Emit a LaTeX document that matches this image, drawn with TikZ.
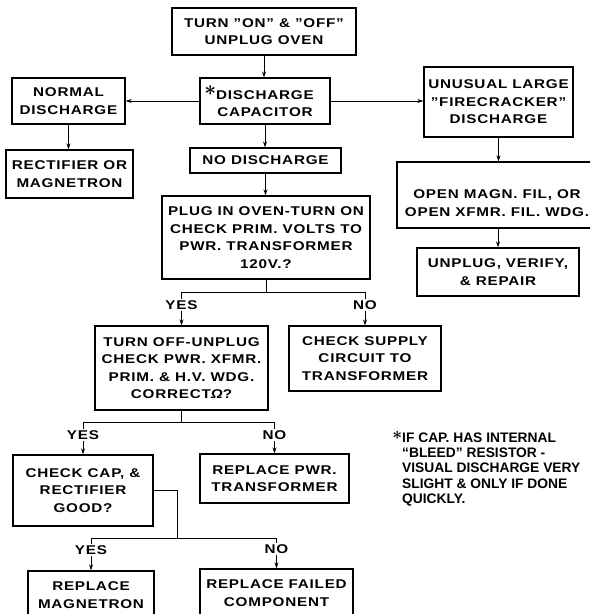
\documentclass[tikz,border=0pt]{standalone}
\usepackage{fontspec}
\setmainfont{Liberation Sans}[FakeStretch=1.2,LetterSpace=6]
\newfontfamily\notefont{Liberation Sans}[Ligatures=TeX]
\usetikzlibrary{arrows.meta}

% big asterisk that marks the capacitor note
\newcommand\capmark[2]{\raisebox{#2}{\fontsize{#1}{#1}\selectfont\boldmath$\ast$}}

\begin{document}
\begin{tikzpicture}[x=1pt, y=-1pt,
    box/.style={draw, line width=1.4pt, align=center, inner sep=0pt,
        font=\bfseries\fontsize{12.7}{17.5}\selectfont},
    arr/.style={-{Stealth[length=6pt,width=4pt]}, line width=0.8pt},
    link/.style={line width=0.8pt},
    ans/.style={fill=white, inner sep=1.5pt, font=\bfseries\fontsize{12.7}{15}\selectfont},
    note/.style={align=left, inner sep=0pt, font=\notefont\bfseries\fontsize{13.8}{15.3}\selectfont}]
    \path[use as bounding box] (0,0) rectangle (590,614);
    \clip (0,0) rectangle (590,614);

    % main column
    \node[box, minimum width=184, minimum height=47] (turn) at (264,31.5) {TURN ''ON'' \& ''OFF''\\UNPLUG OVEN};
    \node[box, minimum width=130, minimum height=46] (dis) at (265,101) {\llap{\capmark{20}{4pt}}DISCHARGE\\CAPACITOR};
    \node[box, minimum width=151, minimum height=25] (nodis) at (265.5,160.5) {NO DISCHARGE};
    \node[box, minimum width=208, minimum height=83] (plug) at (266,237.5) {PLUG IN OVEN-TURN ON\\CHECK PRIM. VOLTS TO\\PWR. TRANSFORMER\\120V.?};

    % left side
    \node[box, minimum width=113, minimum height=46] (normal) at (68.5,101) {NORMAL\\DISCHARGE};
    \node[box, minimum width=127, minimum height=48] (rect) at (69.5,174) {RECTIFIER OR\\MAGNETRON};

    % right side
    \node[box, minimum width=149, minimum height=70] (unusual) at (498.5,102) {UNUSUAL LARGE\\''FIRECRACKER''\\DISCHARGE};
    \node[box, minimum width=200, minimum height=66] (open) at (497,195) {\rule{0pt}{25pt}OPEN MAGN. FIL, OR\\OPEN XFMR. FIL. WDG.};
    \node[box, minimum width=162, minimum height=48] (unplug) at (498,272) {UNPLUG, VERIFY,\\\& REPAIR};

    % second level
    \node[box, minimum width=173, minimum height=84] (xfmr) at (181.5,368) {TURN OFF-UNPLUG\\CHECK PWR. XFMR.\\PRIM. \& H.V. WDG.\\CORRECT{\itshape\symbol{"03A9}}?};
    \node[box, minimum width=152, minimum height=65] (supply) at (365,358.5) {CHECK SUPPLY\\CIRCUIT TO\\TRANSFORMER};
    \node[box, minimum width=140, minimum height=71] (cap) at (83,490.5) {CHECK CAP, \&\\RECTIFIER\\GOOD?};
    \node[box, minimum width=149, minimum height=49] (pwr) at (274.5,478.5) {REPLACE PWR.\\TRANSFORMER};
    \node[box, minimum width=126, minimum height=48] (mag) at (91,595) {REPLACE\\MAGNETRON};
    \node[box, minimum width=153, minimum height=48] (fail) at (276.5,593) {REPLACE FAILED\\COMPONENT};

    \node[note, anchor=north west] (remark) at (402,431) {\llap{\capmark{18}{3pt}}IF CAP. HAS INTERNAL\\“BLEED” RESISTOR -\\VISUAL DISCHARGE VERY\\SLIGHT \& ONLY IF DONE\\QUICKLY.};

    % straight arrows
    \draw[arr] (turn.south) -- (turn.south |- dis.north);
    \draw[arr] (dis.west) -- (normal.east);
    \draw[arr] (dis.east) -- (dis.east -| unusual.west);
    \draw[arr] (normal.south) -- (normal.south |- rect.north);
    \draw[arr] (dis.south) -- (dis.south |- nodis.north);
    \draw[arr] (nodis.south) -- (nodis.south |- plug.north);
    \draw[arr] (unusual.south) -- (unusual.south |- open.north);
    \draw[arr] (unplug.north |- open.south) -- (unplug.north);

    % yes / no forks
    \draw[link] (plug.south) -- ++(0,13) coordinate (plugfork);
    \draw[arr] (plugfork) -| node[ans, pos=0.69] {YES} (xfmr.north);
    \draw[arr] (plugfork) -| node[ans, pos=0.69] {NO} (supply.north);

    \draw[link] (xfmr.south) -- ++(0,12) coordinate (xfmrfork);
    \draw[arr] (xfmrfork) -| node[ans, pos=0.7] {YES} (cap.north);
    \draw[arr] (xfmrfork) -| node[ans, pos=0.7] {NO} (pwr.north);

    \draw[link] (cap.east) -| (177,538) coordinate (capfork);
    \draw[arr] (capfork) -| node[ans, pos=0.68] {YES} (mag.north);
    \draw[arr] (capfork) -| node[ans, pos=0.68] {NO} (fail.north);
\end{tikzpicture}
\end{document}
